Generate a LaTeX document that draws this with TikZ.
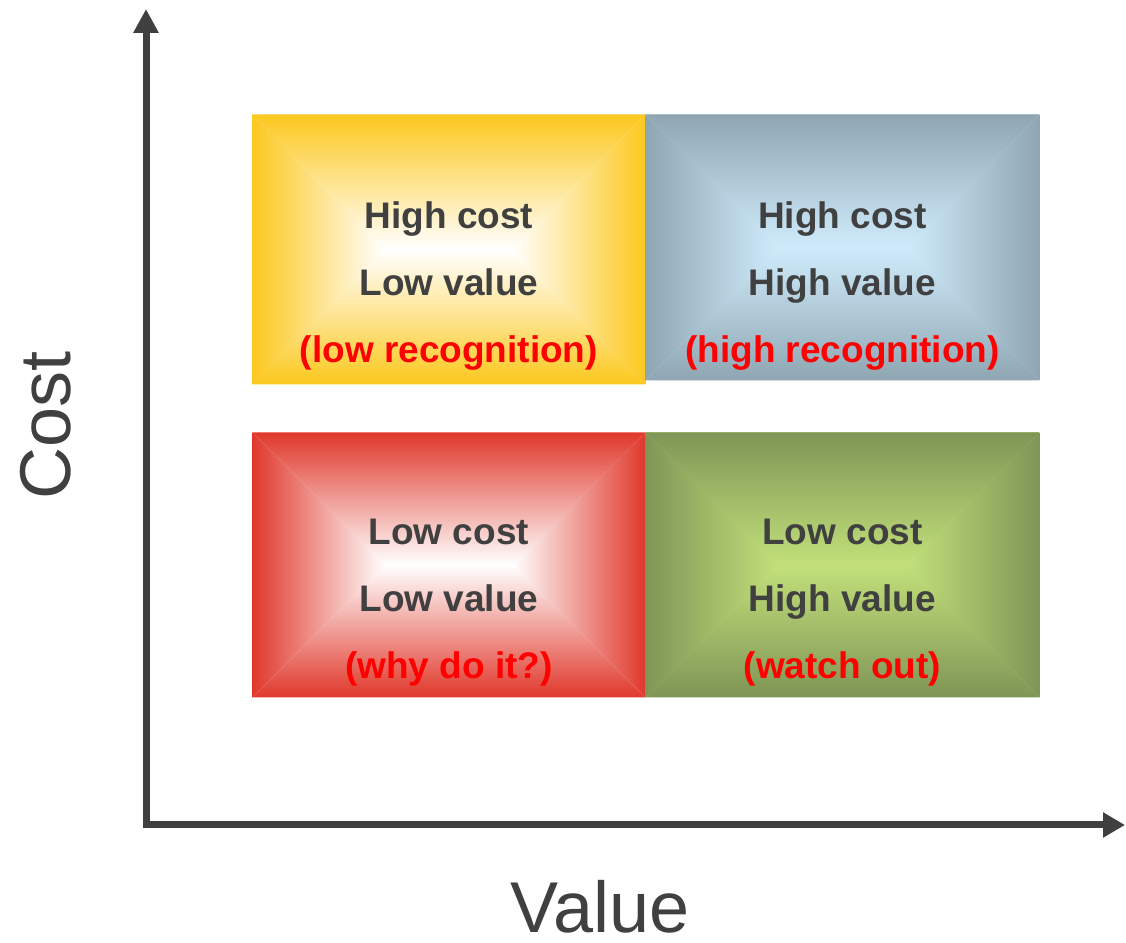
\documentclass[tikz,border=0pt]{standalone}
\usepackage{fontspec}
\setmainfont{Liberation Sans}
\usetikzlibrary{arrows.meta}
\definecolor{axisgray}{HTML}{404040}
\definecolor{qyellow}{HTML}{FCC81E}
\definecolor{qblue}{HTML}{8FA6B2}
\definecolor{qbluec}{HTML}{CFEBFB}
\definecolor{qred}{HTML}{E0382B}
\definecolor{qgreen}{HTML}{7F9556}
\definecolor{qgreenc}{HTML}{C2E07A}
\definecolor{notered}{HTML}{FF0000}
\newcommand\qin{66.5pt}
\newcommand\notetxt[1]{\textcolor{notered}{#1}}

\begin{document}
\begin{tikzpicture}[x=.5pt,y=.5pt,
	quad/.style 2 args={inner sep=0pt,anchor=north west,fill=#2,
		path picture={
			\coordinate (qL) at ([xshift=\qin]path picture bounding box.west);
			\coordinate (qR) at ([xshift=-\qin]path picture bounding box.east);
			\shade[top color=#1,bottom color=#2] (path picture bounding box.north west) -- (path picture bounding box.north east) -- (qR) -- (qL) -- cycle;
			\shade[top color=#2,bottom color=#1] (path picture bounding box.south west) -- (path picture bounding box.south east) -- (qR) -- (qL) -- cycle;
			\shade[left color=#1,right color=#2] (path picture bounding box.north west) -- (path picture bounding box.south west) -- (qL) -- cycle;
			\shade[left color=#2,right color=#1] (path picture bounding box.north east) -- (path picture bounding box.south east) -- (qR) -- cycle;
		}},
	quadtext/.style={anchor=center,align=center,text=axisgray,inner sep=0pt,
		font=\fontsize{18.5pt}{33.5pt}\selectfont\bfseries},
	axislabel/.style={text=axisgray,inner sep=0pt,font=\fontsize{36pt}{40pt}\selectfont}]
	\useasboundingbox (0,0) rectangle (1126,943);

	% quadrants
	\node[quad={qyellow}{white},minimum width=196.5pt,minimum height=135pt] (hclv) at (252,829) {};
	\node[quad={qblue}{qbluec},minimum width=197pt,minimum height=133pt] (hchv) at (645,829) {};
	\node[quad={qred}{white},minimum width=196.5pt,minimum height=132.5pt] (lclv) at (252,511) {};
	\node[quad={qgreen}{qgreenc},minimum width=197pt,minimum height=132.5pt] (lchv) at (645,511) {};

	\node[quadtext] (hclv-t) at ([yshift=-18.5pt]hclv.center)
		{High cost\\Low value\\\notetxt{(low recognition)}};
	\node[quadtext] (hchv-t) at ([yshift=-19.5pt]hchv.center)
		{High cost\\High value\\\notetxt{(high recognition)}};
	\node[quadtext] (lclv-t) at ([yshift=-19pt]lclv.center)
		{Low cost\\Low value\\\notetxt{(why do it?)}};
	\node[quadtext] (lchv-t) at ([yshift=-19pt]lchv.center)
		{Low cost\\High value\\\notetxt{(watch out)}};

	% axes
	\coordinate (origin) at (146,118);
	\coordinate (ytip) at (146,934);
	\coordinate (xtip) at (1125,118);
	\draw[axisgray,line width=3.5pt,{Triangle[length=12pt,width=12pt]}-{Triangle[length=11pt,width=12pt]}]
		(ytip) -- (origin) -- (xtip);

	\node[axislabel,rotate=90] (cost) at (46,518) {Cost};
	\node[axislabel] (value) at (600,36) {Value};
\end{tikzpicture}
\end{document}
